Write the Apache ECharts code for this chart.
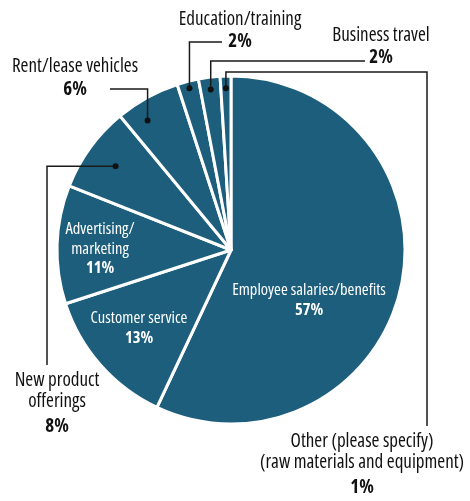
<!DOCTYPE html>
<html>
<head>
<meta charset="utf-8">
<script src="https://cdn.jsdelivr.net/npm/echarts@6/dist/echarts.min.js"></script>
<style>
  html, body { margin: 0; padding: 0; background: #fff; }
  #chart { width: 470px; height: 501px; }
</style>
</head>
<body>
<div id="chart"></div>
<script>
// Spending categories, clockwise from 12 o'clock
const categories = [
  'Employee salaries/benefits',
  'Customer service',
  'Advertising/\nmarketing',
  'New product\nofferings',
  'Rent/lease vehicles',
  'Education/training',
  'Business travel',
  'Other (please specify)\n(raw materials and equipment)'
];
// Share of spending, percent
const shares = [57, 13, 11, 8, 6, 2, 2, 1];

const FONT = "'Open Sans', 'Roboto', sans-serif";
const STRETCH = 'condensed';
const TEAL = '#1c5e7c';
const INK = '#1a1a1a';
const CENTER = [231, 250];
const RADIUS = 174;

// Where each label block sits (center x, top y); outside labels also get
// a dot (fraction of the radius, small angular nudge in degrees) and an
// elbowed leader line running from the dot to the text.
const labelPlacement = [
  { x: 309, y: 281, inside: true },
  { x: 139, y: 309, inside: true },
  { x: 100, y: 220, inside: true },
  { x: 57, y: 370, dot: 0.82, turn: 0, path: d => [[47, d[1]], [47, 365]] },
  { x: 75, y: 56.5, dot: 0.885, turn: -4, path: d => [[d[0], 89], [110, 89]] },
  { x: 240, y: 9, dot: 0.96, turn: 0, path: d => [[d[0], 42], [222, 42]] },
  { x: 381, y: 25, dot: 0.93, turn: 0, path: d => [[d[0], 61], [365, 61]] },
  { x: 362, y: 431, dot: 0.93, turn: 0, path: d => [[d[0], 72], [427, 72], [427, 426]] }
];

const outsideRich = {
  n: { fontFamily: FONT, fontStyle: STRETCH, fontSize: 19, color: '#111', lineHeight: 21 },
  p: { fontFamily: FONT, fontStyle: STRETCH, fontSize: 19, fontWeight: 'bold', color: '#111', lineHeight: 24 },
  q: { fontFamily: FONT, fontStyle: STRETCH, fontSize: 19, fontWeight: 'bold', color: '#111', lineHeight: 30 }
};
const insideRich = {
  n: { fontFamily: FONT, fontStyle: STRETCH, fontSize: 16.5, color: '#fff', lineHeight: 19.5 },
  p: { fontFamily: FONT, fontStyle: STRETCH, fontSize: 16.5, fontWeight: 'bold', color: '#fff', lineHeight: 19.5 },
  q: { fontFamily: FONT, fontStyle: STRETCH, fontSize: 16.5, fontWeight: 'bold', color: '#fff', lineHeight: 19.5 }
};

function formatLabel(p) {
  const lines = p.name.split('\n');
  const nameLines = lines.map(s => '{n|' + s + '}').join('\n');
  const pct = lines.length > 1 ? 'q' : 'p';
  return nameLines + '\n{' + pct + '|' + p.value + '%}';
}

// Leader geometry collected while the pie lays out its labels
const leaders = {};

const chart = echarts.init(document.getElementById('chart'), null, { renderer: 'canvas' });

chart.setOption({
  animation: false,
  series: [{
    type: 'pie',
    center: CENTER,
    radius: RADIUS,
    startAngle: 90,
    clockwise: true,
    avoidLabelOverlap: false,
    emphasis: { disabled: true },
    itemStyle: { color: TEAL, borderColor: '#fff', borderWidth: 3 },
    label: {
      show: true,
      position: 'outside',
      formatter: formatLabel,
      rich: outsideRich
    },
    labelLine: {
      show: true,
      length: 10,
      length2: 10,
      lineStyle: { color: INK, width: 1.5, opacity: 0 }
    },
    labelLayout: function (p) {
      const cfg = labelPlacement[p.dataIndex];
      const out = { x: cfg.x, y: cfg.y, align: 'center', verticalAlign: 'top' };
      if (!cfg.inside && p.labelLinePoints) {
        // first guide point sits on the rim at the slice's mid-angle
        const edge = p.labelLinePoints[0];
        const vx = (edge[0] - CENTER[0]) * cfg.dot;
        const vy = (edge[1] - CENTER[1]) * cfg.dot;
        const t = cfg.turn * Math.PI / 180;
        const d = [
          CENTER[0] + vx * Math.cos(t) - vy * Math.sin(t),
          CENTER[1] + vx * Math.sin(t) + vy * Math.cos(t)
        ];
        const pts = [d].concat(cfg.path(d));
        leaders[p.dataIndex] = pts;
        out.labelLinePoints = pts;
      }
      return out;
    },
    data: categories.map((name, i) => {
      const item = { name: name, value: shares[i] };
      if (labelPlacement[i].inside) {
        item.label = { position: 'inside', formatter: formatLabel, rich: insideRich };
        item.labelLine = { show: false };
      }
      return item;
    })
  }]
});

// Leader lines and their dots, drawn over the slices
const overlay = [];
Object.keys(leaders).forEach(k => {
  const pts = leaders[k];
  overlay.push({
    type: 'polyline',
    z: 100,
    silent: true,
    shape: { points: pts },
    style: { stroke: INK, lineWidth: 1.5, fill: null }
  });
  overlay.push({
    type: 'circle',
    z: 101,
    silent: true,
    shape: { cx: pts[0][0], cy: pts[0][1], r: 3 },
    style: { fill: '#111' }
  });
});
chart.setOption({ graphic: overlay });
</script>
</body>
</html>
